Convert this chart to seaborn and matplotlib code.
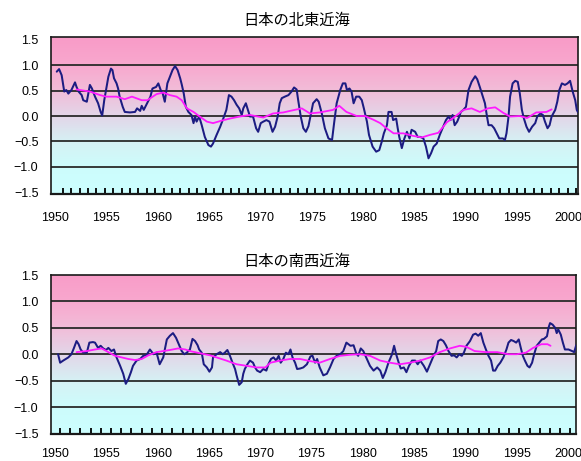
import numpy as np
import matplotlib
matplotlib.use("Agg")
import matplotlib.pyplot as plt
from matplotlib.colors import LinearSegmentedColormap
import seaborn as sns

# ---- 北東近海: monthly anomaly (blue) and 5-year running mean (magenta) ----
ne_years = [1950.17, 1950.40, 1950.65, 1950.90, 1951.10, 1951.30, 1951.60, 1951.95, 1952.10, 1952.30,
            1952.60, 1952.75, 1953.10, 1953.25, 1953.40, 1953.60, 1953.90, 1954.20, 1954.45, 1954.60,
            1954.80, 1954.97, 1955.20, 1955.45, 1955.60, 1955.75, 1956.00, 1956.15, 1956.30, 1956.60,
            1956.80, 1957.30, 1957.80, 1958.00, 1958.30, 1958.45, 1958.65, 1958.90, 1959.30, 1959.50,
            1959.85, 1960.07, 1960.30, 1960.50, 1960.70, 1960.95, 1961.20, 1961.45, 1961.70, 1961.95,
            1962.20, 1962.35, 1962.55, 1962.75, 1963.00, 1963.30, 1963.50, 1963.65, 1963.80, 1964.05,
            1964.30, 1964.60, 1964.95, 1965.20, 1965.40, 1965.75, 1966.10, 1966.40, 1966.70, 1966.95,
            1967.20, 1967.45, 1967.70, 1967.95, 1968.20, 1968.35, 1968.60, 1968.80, 1969.00, 1969.30,
            1969.60, 1969.80, 1970.05, 1970.30, 1970.60, 1970.90, 1971.20, 1971.45, 1971.70, 1971.90,
            1972.10, 1972.40, 1972.75, 1973.05, 1973.30, 1973.55, 1973.70, 1973.95, 1974.20, 1974.45,
            1974.70, 1974.95, 1975.15, 1975.50, 1975.70, 1976.00, 1976.30, 1976.65, 1977.00, 1977.20,
            1977.45, 1977.80, 1978.05, 1978.30, 1978.45, 1978.70, 1978.90, 1979.10, 1979.35, 1979.65,
            1979.90, 1980.10, 1980.40, 1980.60, 1980.95, 1981.30, 1981.60, 1981.85, 1982.05, 1982.35,
            1982.50, 1982.80, 1982.95, 1983.25, 1983.40, 1983.55, 1983.80, 1984.05, 1984.30, 1984.55,
            1984.75, 1985.10, 1985.35, 1985.60, 1985.90, 1986.15, 1986.40, 1986.65, 1986.90, 1987.20,
            1987.50, 1987.85, 1988.10, 1988.35, 1988.55, 1988.75, 1988.95, 1989.20, 1989.40, 1989.55,
            1989.80, 1990.05, 1990.30, 1990.60, 1990.95, 1991.15, 1991.40, 1991.65, 1991.90, 1992.10,
            1992.25, 1992.55, 1992.80, 1993.05, 1993.30, 1993.65, 1993.85, 1994.00, 1994.20, 1994.35,
            1994.60, 1994.85, 1995.10, 1995.30, 1995.50, 1995.70, 1995.95, 1996.20, 1996.50, 1996.80,
            1997.00, 1997.30, 1997.55, 1997.75, 1998.00, 1998.20, 1998.40, 1998.75, 1998.95, 1999.15,
            1999.40, 1999.70, 1999.95, 2000.20, 2000.45, 2000.70, 2000.85, 2000.95]
ne_anom = [0.87, 0.92, 0.80, 0.48, 0.51, 0.44, 0.51, 0.66, 0.57, 0.48,
           0.41, 0.31, 0.28, 0.44, 0.61, 0.54, 0.38, 0.25, 0.08, 0.01,
           0.31, 0.51, 0.77, 0.93, 0.90, 0.74, 0.64, 0.54, 0.38, 0.18,
           0.08, 0.07, 0.08, 0.15, 0.10, 0.20, 0.12, 0.22, 0.38, 0.54,
           0.57, 0.64, 0.51, 0.44, 0.28, 0.64, 0.77, 0.90, 0.98, 0.90,
           0.74, 0.62, 0.44, 0.18, 0.08, 0.02, -0.14, -0.01, -0.11, -0.01,
           -0.18, -0.41, -0.57, -0.60, -0.54, -0.37, -0.21, -0.05, 0.12, 0.41,
           0.38, 0.31, 0.22, 0.15, 0.02, 0.15, 0.25, 0.12, -0.01, -0.01,
           -0.24, -0.31, -0.14, -0.11, -0.08, -0.11, -0.31, -0.21, -0.01, 0.25,
           0.35, 0.38, 0.41, 0.48, 0.56, 0.52, 0.31, -0.01, -0.24, -0.31,
           -0.20, 0.05, 0.25, 0.33, 0.28, 0.05, -0.24, -0.44, -0.47, -0.14,
           0.25, 0.51, 0.64, 0.64, 0.51, 0.54, 0.48, 0.25, 0.38, 0.38,
           0.31, 0.15, -0.11, -0.37, -0.60, -0.70, -0.67, -0.50, -0.34, -0.18,
           0.08, 0.08, -0.08, -0.05, -0.24, -0.41, -0.63, -0.44, -0.31, -0.44,
           -0.27, -0.31, -0.41, -0.41, -0.44, -0.60, -0.83, -0.73, -0.60, -0.54,
           -0.37, -0.20, -0.08, -0.01, -0.08, 0.02, -0.18, -0.11, -0.01, 0.08,
           0.12, 0.18, 0.51, 0.67, 0.78, 0.72, 0.57, 0.41, 0.25, -0.01,
           -0.18, -0.18, -0.24, -0.34, -0.44, -0.44, -0.47, -0.34, -0.01, 0.38,
           0.64, 0.69, 0.67, 0.44, 0.12, -0.05, -0.21, -0.31, -0.21, -0.14,
           -0.01, 0.05, 0.02, -0.11, -0.24, -0.18, -0.01, 0.12, 0.28, 0.51,
           0.64, 0.61, 0.64, 0.69, 0.48, 0.31, 0.12, 0.08]

ne_mean_years = [1952.10, 1953.40, 1954.40, 1955.00, 1956.00, 1956.80, 1957.50, 1958.45, 1959.00, 1959.90,
                 1960.55, 1961.20, 1961.85, 1962.35, 1962.85, 1963.50, 1964.10, 1964.80, 1965.40, 1966.25,
                 1967.05, 1968.00, 1969.00, 1970.30, 1971.25, 1972.25, 1972.90, 1974.05, 1974.85, 1975.80,
                 1977.10, 1977.70, 1978.40, 1979.40, 1980.20, 1981.00, 1981.70, 1982.30, 1983.00, 1983.95,
                 1984.90, 1985.75, 1986.55, 1987.35, 1988.20, 1989.00, 1989.80, 1990.60, 1991.40, 1992.20,
                 1992.90, 1993.70, 1994.35, 1995.30, 1996.00, 1996.90, 1997.90, 1998.40]
ne_mean = [0.52, 0.48, 0.41, 0.38, 0.38, 0.33, 0.38, 0.31, 0.31, 0.43,
           0.46, 0.41, 0.38, 0.31, 0.15, 0.08, -0.01, -0.11, -0.14, -0.09,
           -0.05, -0.01, 0.02, -0.03, 0.05, 0.07, 0.10, 0.15, 0.05, 0.07,
           0.12, 0.20, 0.08, 0.00, 0.00, -0.07, -0.14, -0.24, -0.34, -0.34,
           -0.39, -0.42, -0.37, -0.33, -0.12, -0.01, 0.12, 0.15, 0.08, 0.15,
           0.17, 0.06, -0.01, 0.00, -0.04, 0.07, 0.08, 0.13]

# ---- 南西近海: monthly anomaly (blue) and 5-year running mean (magenta) ----
sw_years = [1950.30, 1950.50, 1950.80, 1951.30, 1951.60, 1951.85, 1952.10, 1952.30, 1952.50, 1952.75,
            1953.10, 1953.35, 1953.70, 1953.90, 1954.20, 1954.45, 1954.70, 1954.97, 1955.20, 1955.50,
            1955.75, 1956.00, 1956.35, 1956.65, 1956.90, 1957.15, 1957.40, 1957.60, 1957.95, 1958.30,
            1958.60, 1958.90, 1959.25, 1959.60, 1959.90, 1960.20, 1960.55, 1960.90, 1961.20, 1961.50,
            1961.80, 1962.00, 1962.35, 1962.60, 1962.85, 1963.15, 1963.40, 1963.65, 1963.90, 1964.05,
            1964.30, 1964.50, 1964.80, 1965.05, 1965.30, 1965.40, 1965.75, 1966.10, 1966.35, 1966.55,
            1966.80, 1967.05, 1967.30, 1967.55, 1967.70, 1967.95, 1968.20, 1968.35, 1968.50, 1968.75,
            1969.00, 1969.30, 1969.50, 1969.70, 1970.00, 1970.30, 1970.60, 1970.80, 1971.05, 1971.30,
            1971.55, 1971.80, 1972.00, 1972.25, 1972.50, 1972.75, 1972.95, 1973.15, 1973.40, 1973.60,
            1973.90, 1974.20, 1974.55, 1974.90, 1975.10, 1975.35, 1975.55, 1975.80, 1976.15, 1976.50,
            1976.80, 1977.15, 1977.45, 1977.80, 1978.10, 1978.40, 1978.60, 1978.80, 1979.10, 1979.35,
            1979.55, 1979.80, 1980.05, 1980.40, 1980.70, 1981.05, 1981.40, 1981.70, 1981.95, 1982.20,
            1982.50, 1982.85, 1983.05, 1983.25, 1983.50, 1983.70, 1984.00, 1984.25, 1984.50, 1984.80,
            1985.10, 1985.35, 1985.60, 1985.95, 1986.25, 1986.55, 1986.90, 1987.15, 1987.35, 1987.60,
            1987.85, 1988.10, 1988.35, 1988.65, 1988.90, 1989.15, 1989.40, 1989.65, 1989.85, 1990.10,
            1990.45, 1990.75, 1991.00, 1991.25, 1991.50, 1991.75, 1992.00, 1992.25, 1992.50, 1992.70,
            1992.90, 1993.15, 1993.40, 1993.70, 1994.00, 1994.20, 1994.45, 1994.70, 1994.95, 1995.20,
            1995.40, 1995.60, 1995.80, 1996.05, 1996.25, 1996.50, 1996.70, 1996.95, 1997.20, 1997.45,
            1997.65, 1997.95, 1998.10, 1998.25, 1998.50, 1998.75, 1998.90, 1999.05, 1999.30, 1999.50,
            1999.70, 2000.05, 2000.40, 2000.60, 2000.80]
sw_anom = [0.00, -0.16, -0.12, -0.06, 0.00, 0.12, 0.25, 0.19, 0.09, 0.03,
           0.03, 0.22, 0.23, 0.22, 0.12, 0.16, 0.11, 0.08, 0.12, 0.06,
           0.09, -0.06, -0.22, -0.37, -0.56, -0.47, -0.34, -0.22, -0.12, -0.09,
           -0.03, -0.02, 0.09, 0.00, 0.03, -0.19, -0.06, 0.28, 0.35, 0.40,
           0.31, 0.22, 0.06, 0.00, 0.03, 0.09, 0.29, 0.25, 0.17, 0.09,
           0.03, -0.19, -0.25, -0.33, -0.25, -0.06, 0.00, 0.04, 0.00, 0.03,
           0.08, -0.03, -0.16, -0.28, -0.40, -0.58, -0.53, -0.37, -0.28, -0.19,
           -0.12, -0.16, -0.25, -0.31, -0.34, -0.28, -0.31, -0.19, -0.09, -0.06,
           -0.12, -0.03, -0.16, -0.09, 0.03, 0.00, 0.09, -0.06, -0.16, -0.28,
           -0.27, -0.25, -0.19, -0.04, -0.03, -0.16, -0.09, -0.25, -0.40, -0.37,
           -0.25, -0.09, -0.03, 0.00, 0.06, 0.22, 0.19, 0.16, 0.17, 0.02,
           -0.03, 0.11, 0.06, -0.09, -0.22, -0.31, -0.25, -0.31, -0.45, -0.34,
           -0.16, 0.00, 0.16, 0.00, -0.16, -0.27, -0.25, -0.34, -0.22, -0.12,
           -0.12, -0.19, -0.12, -0.22, -0.33, -0.19, -0.03, 0.06, 0.25, 0.28,
           0.25, 0.17, 0.06, -0.03, -0.02, -0.06, 0.00, -0.03, 0.03, 0.16,
           0.25, 0.37, 0.39, 0.35, 0.40, 0.22, 0.09, -0.03, -0.12, -0.31,
           -0.31, -0.22, -0.16, -0.06, 0.09, 0.22, 0.27, 0.25, 0.22, 0.28,
           0.12, -0.03, -0.12, -0.22, -0.25, -0.16, 0.00, 0.16, 0.22, 0.28,
           0.29, 0.34, 0.50, 0.59, 0.56, 0.50, 0.40, 0.47, 0.37, 0.22,
           0.09, 0.09, 0.06, 0.04, 0.17]

sw_mean_years = [1952.10, 1953.10, 1953.90, 1954.55, 1955.20, 1955.85, 1956.50, 1957.15, 1957.80, 1958.45,
                 1959.10, 1959.90, 1960.55, 1961.20, 1962.00, 1962.70, 1963.15, 1964.10, 1965.10, 1965.75,
                 1966.70, 1967.70, 1968.70, 1969.65, 1970.50, 1971.00, 1971.95, 1972.90, 1973.90, 1974.85,
                 1975.80, 1976.80, 1977.80, 1978.75, 1979.70, 1980.70, 1981.70, 1982.65, 1983.60, 1984.60,
                 1985.60, 1986.55, 1987.50, 1988.50, 1989.45, 1990.10, 1990.90, 1992.00, 1993.10, 1994.20,
                 1995.00, 1995.90, 1996.60, 1997.40, 1998.00, 1998.30]
sw_mean = [0.04, 0.06, 0.09, 0.11, 0.04, -0.03, -0.06, -0.09, -0.11, -0.09,
           -0.02, 0.04, 0.06, 0.08, 0.11, 0.09, 0.06, 0.02, -0.02, -0.06,
           -0.12, -0.19, -0.22, -0.25, -0.25, -0.16, -0.12, -0.09, -0.09, -0.13,
           -0.16, -0.09, -0.03, -0.01, 0.00, -0.03, -0.12, -0.16, -0.19, -0.16,
           -0.12, -0.06, 0.04, 0.11, 0.16, 0.14, 0.06, 0.04, 0.04, 0.00,
           0.00, 0.03, 0.12, 0.19, 0.19, 0.16]

titles = ["日本の北東近海", "日本の南西近海"]
year_ticks = [1950, 1955, 1960, 1965, 1970, 1975, 1980, 1985, 1990, 1995, 2000]
value_ticks = [-1.5, -1.0, -0.5, 0.0, 0.5, 1.0, 1.5]

sns.set_style("white")
plt.rcParams["font.family"] = ["Liberation Sans", "DejaVu Sans"]
plt.rcParams["axes.unicode_minus"] = True

W, H = 581, 461
fig = plt.figure(figsize=(W / 100, H / 100), dpi=100)
fig.patch.set_facecolor("white")

band_cmap = LinearSegmentedColormap.from_list(
    "band",
    [(0.00, "#ccffff"), (0.17, "#cdfcfc"), (0.33, "#d6f1f4"),
     (0.50, "#e3d5e8"), (0.67, "#f2bcd8"), (0.83, "#f8a8ce"), (1.00, "#f99cc8")])

panels = [
    dict(box=(51, 37, 578, 194), xlim=(1949.61, 2000.97), ylim=(-1.53, 1.55),
         years=ne_years, anom=ne_anom, myears=ne_mean_years, mean=ne_mean,
         title=titles[0], title_y=20, minor_start=1950.75, minor_step=0.82, xpad=13),
    dict(box=(51, 275, 576, 434), xlim=(1949.61, 2000.78), ylim=(-1.51, 1.46),
         years=sw_years, anom=sw_anom, myears=sw_mean_years, mean=sw_mean,
         title=titles[1], title_y=261, minor_start=1950.49, minor_step=0.995, xpad=10),
]

for p in panels:
    x0, y0, x1, y1 = p["box"]
    ax = fig.add_axes([x0 / W, 1 - y1 / H, (x1 - x0) / W, (y1 - y0) / H])
    xmin, xmax = p["xlim"]
    ymin, ymax = p["ylim"]

    # vertical pink-to-cyan background
    grad = np.linspace(0, 1, 256).reshape(-1, 1)
    ax.imshow(grad, cmap=band_cmap, origin="lower", aspect="auto",
              extent=[xmin, xmax, -1.5, 1.5], zorder=0, interpolation="bicubic")
    ax.axhspan(1.5, ymax, color="#f99cc8", zorder=0, lw=0)
    ax.axhspan(ymin, -1.5, color="#ccffff", zorder=0, lw=0)

    for v in [1.0, 0.5, 0.0, -0.5, -1.0]:
        ax.axhline(v, color="#2a2a2a", lw=1.3, zorder=1)

    sns.lineplot(x=p["years"], y=p["anom"], ax=ax, color="#1c1c82", lw=1.45,
                 estimator=None, sort=False, zorder=3)
    sns.lineplot(x=p["myears"], y=p["mean"], ax=ax, color="#ff1aff", lw=1.3,
                 estimator=None, sort=False, zorder=4)

    ax.set_xlim(xmin, xmax)
    ax.set_ylim(ymin, ymax)
    ax.set_xticks(year_ticks)
    ax.set_xticklabels([str(y) for y in year_ticks])
    ax.set_yticks(value_ticks)
    ax.set_yticklabels([f"{v:.1f}".replace("-", "\u2212") for v in value_ticks])
    ax.set_xticks(np.arange(p["minor_start"], xmax, p["minor_step"]), minor=True)
    ax.tick_params(axis="x", which="major", length=0, pad=p["xpad"], labelsize=9, colors="black")
    ax.tick_params(axis="y", which="major", length=0, pad=9, labelsize=9, colors="black")
    ax.tick_params(axis="x", which="minor", direction="in", length=4, width=1.3,
                   color="black", bottom=True, top=False)
    ax.set_xlabel("")
    ax.set_ylabel("")
    for side, sp in ax.spines.items():
        sp.set_visible(True)
        sp.set_color("#1a1a1a")
        sp.set_linewidth(1.2)
    ax.spines["bottom"].set_linewidth(1.6)

    fig.text(0.51, 1 - p["title_y"] / H, p["title"], ha="center", va="center",
             fontsize=11, family=["Noto Sans CJK JP", "DejaVu Sans"], color="black")

fig.savefig("out.png", dpi=100)
